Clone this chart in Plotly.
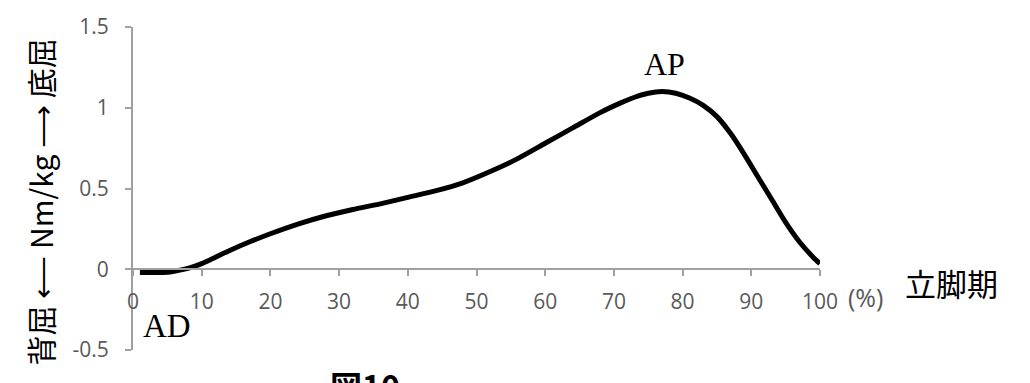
import plotly.graph_objects as go

# Stance phase (%) and ankle moment (Nm/kg)
stance_pct = [1, 3, 5, 6, 8, 10, 12, 14, 17, 20, 24, 28, 32, 36, 40, 44, 48, 52, 56, 60,
              64, 68, 71, 73, 75, 77, 79, 81, 83, 85, 87, 89, 91, 93, 95, 97, 99, 100]
moment = [-0.02, -0.02, -0.018, -0.012, 0.005, 0.035, 0.075, 0.115, 0.17, 0.22, 0.28, 0.33,
          0.37, 0.405, 0.445, 0.485, 0.535, 0.605, 0.685, 0.78, 0.875, 0.97, 1.03, 1.065,
          1.09, 1.10, 1.09, 1.06, 1.015, 0.945, 0.84, 0.71, 0.57, 0.43, 0.29, 0.17, 0.075, 0.035]

x_ticks = [0, 10, 20, 30, 40, 50, 60, 70, 80, 90, 100]
y_ticks = [-0.5, 0, 0.5, 1, 1.5]
y_ticktext = ["-0.5", "0", "0.5", "1", "1.5"]

axis_gray = "#a0a0a0"
label_gray = "#595959"
tick_font = dict(family="Open Sans, Liberation Sans, sans-serif", size=21, color=label_gray)

fig = go.Figure()
fig.add_trace(go.Scatter(
    x=stance_pct, y=moment, mode="lines",
    line=dict(color="black", width=5, shape="spline", smoothing=0.7),
    showlegend=False, hoverinfo="skip",
))

fig.update_layout(
    width=1030, height=383,
    margin=dict(l=133, r=210, t=15, b=33),
    paper_bgcolor="white", plot_bgcolor="white",
    xaxis=dict(
        range=[0, 100], tickvals=x_ticks, ticktext=[str(v) for v in x_ticks],
        showgrid=False, zeroline=False, showline=True, linecolor=axis_gray, linewidth=2,
        ticks="outside", ticklen=6, tickwidth=2, tickcolor=axis_gray,
        anchor="free", position=0.25, tickfont=tick_font, ticklabelstandoff=8,
        ticklabeloverflow="allow",
    ),
    yaxis=dict(
        range=[-0.5, 1.5], tickvals=y_ticks, ticktext=y_ticktext,
        showgrid=False, zeroline=False, showline=True, linecolor=axis_gray, linewidth=2,
        ticks="outside", ticklen=6, tickwidth=2, tickcolor=axis_gray,
        tickfont=tick_font, ticklabelstandoff=12, ticklabeloverflow="allow",
    ),
)

serif = "Liberation Serif, Times New Roman, serif"
cjk = "Noto Sans CJK JP, sans-serif"

fig.add_annotation(x=77.4, y=1.10, xref="x", yref="y", text="AP", showarrow=False,
                   xanchor="center", yanchor="bottom", yshift=8,
                   font=dict(family=serif, size=32, color="black"))
fig.add_annotation(x=5, y=-0.35, xref="x", yref="y", text="AD", showarrow=False,
                   xanchor="center", yanchor="middle",
                   font=dict(family=serif, size=33, color="black"))
fig.add_annotation(x=1.066, y=0.25, xref="paper", yref="paper", text="(%)", showarrow=False,
                   xanchor="center", yanchor="middle", yshift=-28,
                   font=dict(family="Open Sans, sans-serif", size=25, color=label_gray))
fig.add_annotation(x=1.192, y=0.25, xref="paper", yref="paper", text="立脚期", showarrow=False,
                   xanchor="center", yanchor="middle", yshift=-13,
                   font=dict(family=cjk, size=31, color="black"))
fig.add_annotation(x=-0.1354, y=0.46, xref="paper", yref="paper",
                   text="背屈 ⟵ Nm/kg ⟶ 底屈", textangle=-90, showarrow=False,
                   xanchor="center", yanchor="middle",
                   font=dict(family=cjk, size=30, color="black"))
fig.add_annotation(x=0.338, y=-0.03, xref="paper", yref="paper", text="<b>図10</b>",
                   showarrow=False, xanchor="center", yanchor="top",
                   font=dict(family=cjk, size=32, color="black"))

fig.write_html("out.html")
